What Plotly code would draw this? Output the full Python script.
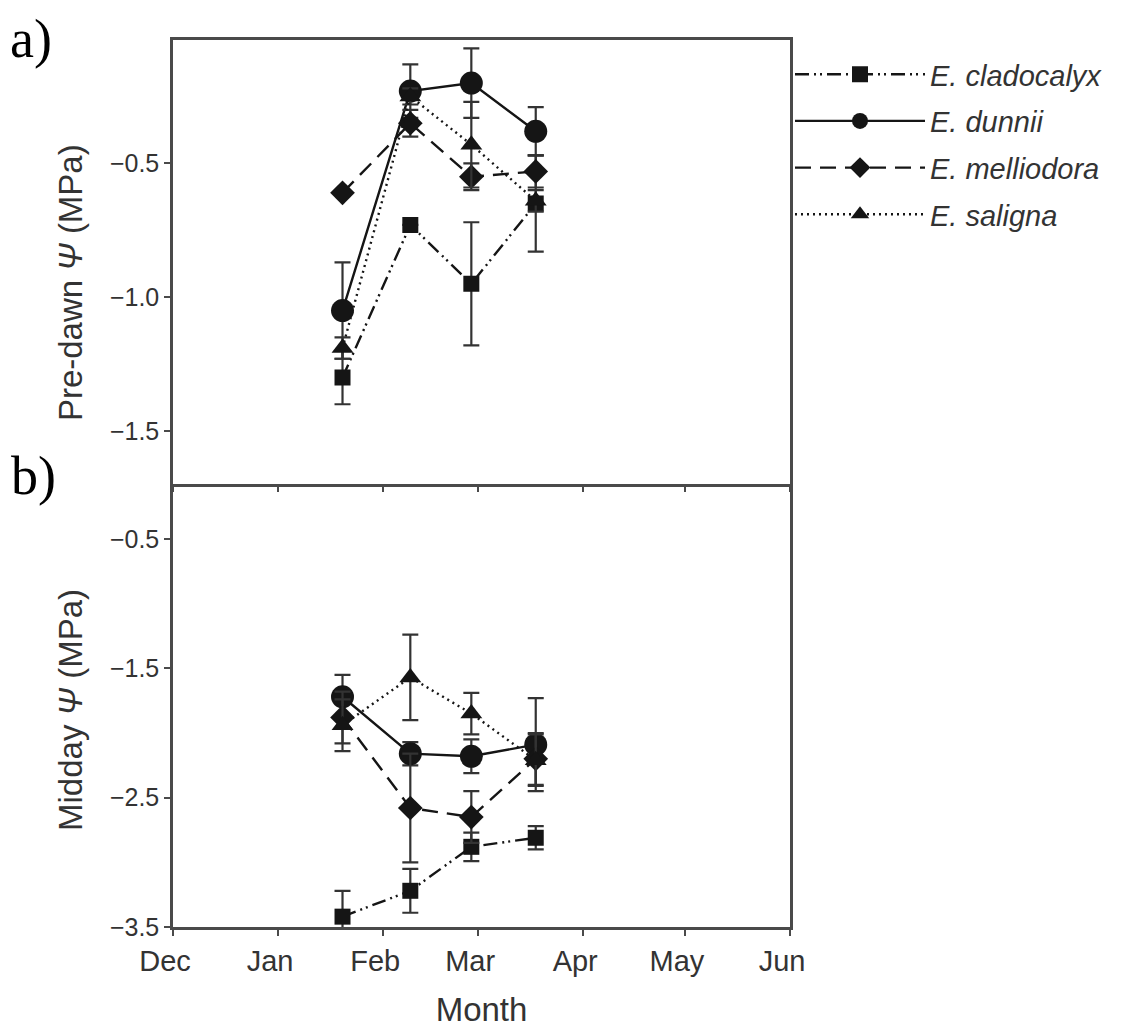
import plotly.graph_objects as go
from plotly.subplots import make_subplots

# ---- data ----
dates = ["2007-01-20", "2007-02-09", "2007-02-27", "2007-03-18"]
species = ["E. cladocalyx", "E. dunnii", "E. melliodora", "E. saligna"]

pre_clad = [-1.30, -0.73, -0.95, -0.65]
pre_clad_err = [0.10, 0.0, 0.23, 0.18]
pre_dunn = [-1.05, -0.23, -0.20, -0.38]
pre_dunn_err = [0.18, 0.10, 0.13, 0.09]
pre_mell = [-0.61, -0.35, -0.55, -0.53]
pre_mell_err = [0.0, 0.05, 0.05, 0.06]
pre_sal = [-1.19, -0.25, -0.43, -0.64]
pre_sal_err = [0.04, 0.03, 0.16, 0.04]

mid_clad = [-3.42, -3.22, -2.88, -2.81]
mid_clad_err = [0.20, 0.17, 0.11, 0.09]
mid_dunn = [-1.72, -2.16, -2.18, -2.09]
mid_dunn_err = [0.17, 0.09, 0.13, 0.36]
mid_mell = [-1.88, -2.58, -2.65, -2.20]
mid_mell_err = [0.20, 0.42, 0.20, 0.20]
mid_sal = [-1.94, -1.57, -1.85, -2.21]
mid_sal_err = [0.20, 0.33, 0.16, 0.20]

month_ticks = ["2006-12-01", "2007-01-01", "2007-02-01", "2007-03-01",
               "2007-04-01", "2007-05-01", "2007-06-01"]
month_labels = ["Dec", "Jan", "Feb", "Mar", "Apr", "May", "Jun"]
pre_ticks = [-0.5, -1.0, -1.5]
mid_ticks = [-0.5, -1.5, -2.5, -3.5]

styles = [
    dict(symbol="square", size=16, dash="14px,5px,2px,4px,2px,5px"),
    dict(symbol="circle", size=23, dash="solid"),
    dict(symbol="diamond", size=19, dash="16px,9px"),
    dict(symbol="triangle-up", size=19, dash="2px,4px"),
]

INK = "#151515"
AX = "#4a4a4a"
TXT = "#333333"
SANS = "Liberation Sans, Arial, sans-serif"
SERIF = "Liberation Serif, Times New Roman, serif"

fig = make_subplots(rows=2, cols=1, shared_xaxes=True, vertical_spacing=0.0)

pre = [(pre_clad, pre_clad_err), (pre_dunn, pre_dunn_err),
       (pre_mell, pre_mell_err), (pre_sal, pre_sal_err)]
mid = [(mid_clad, mid_clad_err), (mid_dunn, mid_dunn_err),
       (mid_mell, mid_mell_err), (mid_sal, mid_sal_err)]

for row, sets in ((1, pre), (2, mid)):
    for i, (vals, errs) in enumerate(sets):
        st = styles[i]
        fig.add_trace(go.Scatter(
            x=dates, y=vals, mode="lines+markers",
            name="<i>" + species[i] + "</i>",
            showlegend=(row == 1), legendgroup=species[i],
            line=dict(color=INK, width=2.4, dash=st["dash"]),
            marker=dict(symbol=st["symbol"], size=st["size"], color=INK,
                        line=dict(width=0)),
            error_y=dict(type="data", array=errs, visible=True,
                         color=TXT, thickness=2.2, width=8),
        ), row=row, col=1)

xtickfont = dict(family=SANS, size=29, color=TXT)
ytickfont = dict(family=SANS, size=25, color=TXT)
titlefont = dict(family=SANS, size=33, color=TXT)

for r in (1, 2):
    fig.update_xaxes(
        row=r, col=1, type="date",
        range=["2006-12-01", "2007-06-01"],
        tickvals=month_ticks, ticktext=month_labels,
        ticks="outside", ticklen=6, tickwidth=1.5, tickcolor=AX,
        showline=True, linecolor=AX, linewidth=2.5, mirror=(r == 1),
        showgrid=False, zeroline=False, tickfont=xtickfont,
        showticklabels=(r == 2), ticklabelshift=-8, automargin=False,
    )

fig.update_xaxes(row=2, col=1, title=dict(text="Month", font=dict(
    family=SANS, size=33, color=TXT), standoff=34))

fig.update_yaxes(row=1, col=1, range=[-1.696, -0.039],
                 tickvals=pre_ticks, tickformat=".1f")
fig.update_yaxes(row=2, col=1, range=[-3.50, -0.071],
                 tickvals=mid_ticks, tickformat=".1f")
fig.update_yaxes(
    ticks="outside", ticklen=6, tickwidth=1.5, tickcolor=AX,
    showline=True, linecolor=AX, linewidth=2.5, mirror=True,
    showgrid=False, zeroline=False, tickfont=ytickfont, automargin=False,
)

# y-axis titles placed as rotated annotations
fig.add_annotation(text="Pre-dawn <i>Ψ</i> (MPa)", xref="paper", yref="paper",
                   x=-0.167, y=0.727, xanchor="center", yanchor="middle",
                   textangle=-90, showarrow=False, font=titlefont)
fig.add_annotation(text="Midday <i>Ψ</i> (MPa)", xref="paper", yref="paper",
                   x=-0.167, y=0.2446, xanchor="center", yanchor="middle",
                   textangle=-90, showarrow=False, font=titlefont)

fig.add_annotation(text="a)", xref="paper", yref="paper", x=-0.266, y=1.036,
                   xanchor="left", yanchor="top", showarrow=False, borderpad=0,
                   font=dict(family=SERIF, size=54, color="black"))
fig.add_annotation(text="b)", xref="paper", yref="paper", x=-0.266, y=0.508,
                   xanchor="left", yanchor="middle", showarrow=False,
                   bgcolor="white", width=100, height=66, align="left",
                   font=dict(family=SERIF, size=54, color="black"))

fig.update_layout(
    width=1117, height=1020,
    margin=dict(l=165, r=335, t=32, b=101),
    paper_bgcolor="white", plot_bgcolor="white",
    legend=dict(x=1.0, y=0.99, xanchor="left", yanchor="top",
                font=dict(family=SANS, size=29, color=TXT),
                itemwidth=130, tracegroupgap=6, bgcolor="rgba(0,0,0,0)"),
)

fig.write_html("out.html")
